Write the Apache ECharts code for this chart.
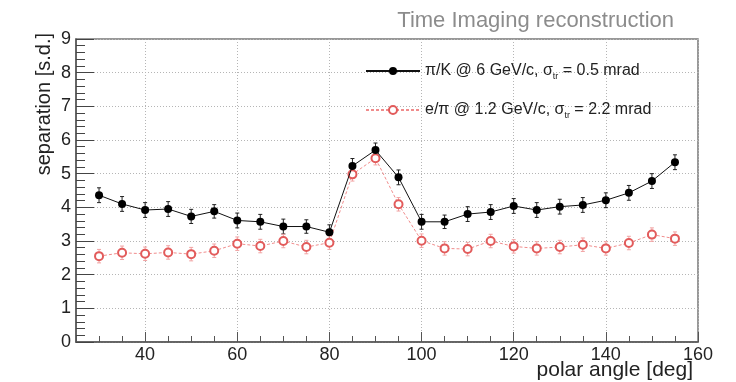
<!DOCTYPE html>
<html>
<head>
<meta charset="utf-8">
<script src="https://cdn.jsdelivr.net/npm/echarts@6/dist/echarts.min.js"></script>
<style>
  html, body { margin: 0; padding: 0; background: #fff; }
  #main { width: 736px; height: 382px; }
</style>
</head>
<body>
<div id="main"></div>
<script>
// polar angle bins [deg]
const angles = [30, 35, 40, 45, 50, 55, 60, 65, 70, 75, 80, 85, 90, 95, 100, 105, 110, 115, 120, 125, 130, 135, 140, 145, 150, 155];
// pi/K @ 6 GeV/c separation and its error
const pikSep = [4.36, 4.10, 3.92, 3.95, 3.73, 3.88, 3.61, 3.57, 3.43, 3.43, 3.26, 5.23, 5.70, 4.89, 3.57, 3.57, 3.80, 3.86, 4.04, 3.92, 4.02, 4.07, 4.21, 4.43, 4.78, 5.34];
const pikErr = [0.22, 0.22, 0.22, 0.22, 0.21, 0.20, 0.22, 0.22, 0.22, 0.20, 0.22, 0.22, 0.21, 0.22, 0.22, 0.20, 0.22, 0.22, 0.22, 0.22, 0.22, 0.22, 0.22, 0.22, 0.22, 0.22];
// e/pi @ 1.2 GeV/c separation and its error
const epiSep = [2.55, 2.65, 2.62, 2.66, 2.61, 2.71, 2.92, 2.85, 3.00, 2.82, 2.95, 4.98, 5.46, 4.09, 3.01, 2.78, 2.76, 3.00, 2.84, 2.78, 2.82, 2.89, 2.78, 2.94, 3.19, 3.07];
const epiErr = [0.20, 0.20, 0.20, 0.20, 0.20, 0.20, 0.20, 0.20, 0.20, 0.20, 0.20, 0.20, 0.20, 0.20, 0.20, 0.20, 0.20, 0.20, 0.20, 0.20, 0.20, 0.20, 0.20, 0.20, 0.20, 0.20];
// labelled x ticks
const xMajor = [40, 60, 80, 100, 120, 140, 160];

const FONT = '"Liberation Sans", Arial, Helvetica, sans-serif';

const pikPts = angles.map((a, i) => [a, pikSep[i]]);
const epiPts = angles.map((a, i) => [a, epiSep[i]]);
const pikBars = angles.map((a, i) => [a, pikSep[i], pikErr[i]]);
const epiBars = angles.map((a, i) => [a, epiSep[i], epiErr[i]]);

function errorBars(color) {
  return function (params, api) {
    const x = api.value(0), y = api.value(1), e = api.value(2);
    const top = api.coord([x, y + e]);
    const bot = api.coord([x, y - e]);
    const style = { stroke: color, lineWidth: 1 };
    return {
      type: 'group',
      children: [
        { type: 'line', shape: { x1: top[0], y1: top[1], x2: bot[0], y2: bot[1] }, style: style },
        { type: 'line', shape: { x1: top[0] - 2, y1: top[1], x2: top[0] + 2, y2: top[1] }, style: style },
        { type: 'line', shape: { x1: bot[0] - 2, y1: bot[1], x2: bot[0] + 2, y2: bot[1] }, style: style }
      ]
    };
  };
}

const chart = echarts.init(document.getElementById('main'));
const dotted = { type: [1, 2], color: '#b5b5b5', width: 1 };

chart.setOption({
  animation: false,
  textStyle: { fontFamily: FONT },
  title: {
    text: 'Time Imaging reconstruction',
    right: 57,
    top: 5,
    textStyle: { fontSize: 22, fontWeight: 'normal', color: '#8c8c8c', fontFamily: FONT }
  },
  grid: {
    left: 76, right: 38, top: 39, bottom: 40,
    show: true, borderColor: '#777', borderWidth: 1.5, backgroundColor: 'transparent'
  },
  legend: {
    orient: 'vertical',
    left: 360,
    top: 55,
    itemWidth: 54,
    itemHeight: 10,
    itemGap: 17,
    data: ['pik', 'epi'],
    formatter: function (name) {
      return name === 'pik'
        ? 'π/K @ 6 GeV/c, σ{s|tr} = 0.5 mrad'
        : 'e/π @ 1.2 GeV/c, σ{s|tr} = 2.2 mrad';
    },
    textStyle: {
      fontSize: 16, color: '#222', lineHeight: 22, fontFamily: FONT,
      rich: { s: { fontSize: 9, lineHeight: 22, padding: [11, 0, 0, 0], color: '#222', fontFamily: FONT } }
    }
  },
  xAxis: [
    {
      type: 'value', min: 25, max: 160, interval: 5,
      axisLine: { show: true, onZero: false, lineStyle: { color: '#555', width: 1.5 } },
      axisTick: { inside: true, length: 6, lineStyle: { color: '#555' } },
      axisLabel: { show: false },
      splitLine: { show: false }
    },
    {
      type: 'value', min: 25, max: 160, position: 'bottom',
      axisLine: { show: false },
      axisTick: { inside: true, length: 10, customValues: xMajor, lineStyle: { color: '#555' } },
      axisLabel: { customValues: xMajor, fontSize: 18, color: '#222', margin: 4, fontFamily: FONT },
      splitLine: { show: true, lineStyle: dotted }
    }
  ],
  yAxis: {
    type: 'value', min: 0, max: 9, interval: 1,
    axisLine: { show: true, lineStyle: { color: '#555', width: 1.5 } },
    axisTick: { show: true, inside: true, length: 18, lineStyle: { color: '#444', width: 1 } },
    minorTick: { show: true, splitNumber: 5, length: 9, lineStyle: { color: '#444', width: 1 } },
    axisLabel: { fontSize: 18, color: '#222', margin: 5, fontFamily: FONT },
    splitLine: { show: true, lineStyle: dotted }
  },
  graphic: [
    {
      type: 'text', right: 43, top: 360,
      style: { text: 'polar angle [deg]', fill: '#222', font: '21px ' + FONT }
    },
    {
      type: 'text', left: 34, top: 33, rotation: Math.PI / 2,
      style: { text: 'separation [s.d.]', fill: '#222', font: '20px ' + FONT }
    }
  ],
  series: [
    {
      name: 'pikErr', type: 'custom', data: pikBars, z: 3,
      renderItem: errorBars('#222')
    },
    {
      name: 'epiErr', type: 'custom', data: epiBars, z: 3,
      renderItem: errorBars('#f1a3a3')
    },
    {
      name: 'epi', type: 'line', data: epiPts, z: 4,
      symbol: 'emptyCircle', symbolSize: 8,
      itemStyle: { color: '#e25b5b', borderColor: '#e25b5b', borderWidth: 1.5 },
      lineStyle: { color: '#f08c8c', width: 1, type: [3, 2] }
    },
    {
      name: 'pik', type: 'line', data: pikPts, z: 5,
      symbol: 'circle', symbolSize: 8,
      itemStyle: { color: '#000' },
      lineStyle: { color: '#111', width: 1 }
    }
  ]
});
</script>
</body>
</html>
